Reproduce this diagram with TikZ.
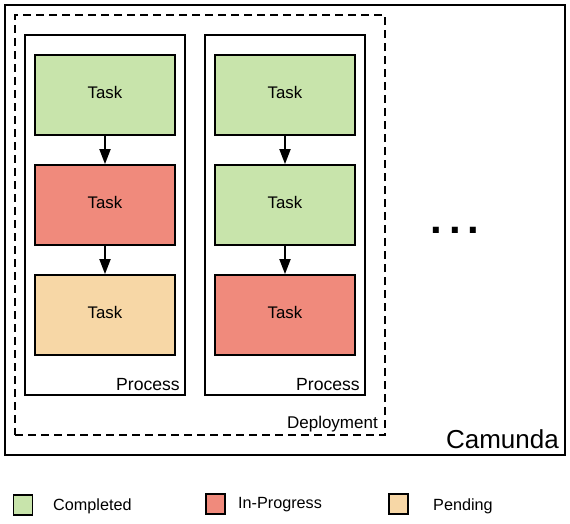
\documentclass[tikz,border=0pt]{standalone}
\usepackage{fontspec}
\setmainfont{Liberation Sans}
\usetikzlibrary{arrows.meta}
\definecolor{cgreen}{RGB}{200,228,171}
\definecolor{cred}{RGB}{240,138,124}
\definecolor{cpeach}{RGB}{247,215,166}
\tikzset{
  box/.style={draw, line width=1.8pt, rectangle, inner sep=0pt},
  taskbox/.style={box, minimum width=140pt, minimum height=80pt, text height=12pt, text depth=4.6pt, font=\fontsize{16.8}{19}\selectfont},
  procbox/.style={box, minimum width=160pt, minimum height=360pt},
  lbl/.style={inner sep=0pt, anchor=base east, font=\fontsize{17.6}{20}\selectfont},
  legsq/.style={box, minimum width=19pt, minimum height=20pt},
  legtxt/.style={inner sep=0pt, anchor=base west, font=\fontsize{16.2}{19}\selectfont},
  arr/.style={line width=1.8pt, -{Triangle[length=15pt,width=11pt]}},
}
\begin{document}
\begin{tikzpicture}[x=1pt,y=-1pt]
\useasboundingbox[fill=white] (0,0) rectangle (570,523);
% outer Camunda box
\node[box, minimum width=560pt, minimum height=450pt] (camunda) at (285,230) {};
\node[lbl, font=\fontsize{26}{30}\selectfont] (camlbl) at (559,448) {Camunda};
% deployment
\node[box, dash pattern=on 8pt off 5pt, minimum width=370pt, minimum height=420pt] (deploy) at (200,225) {};
\node[lbl, font=\fontsize{17}{20}\selectfont] (deplbl) at (378,428) {Deployment};
% process boxes
\node[procbox] (p1) at (105,215) {};
\node[lbl] (p1lbl) at (180,390) {Process};
\node[procbox] (p2) at (285,215) {};
\node[lbl] (p2lbl) at (360,390) {Process};
% tasks
\node[taskbox, fill=cgreen] (a1) at (105,95) {Task};
\node[taskbox, fill=cred] (a2) at (105,205) {Task};
\node[taskbox, fill=cpeach] (a3) at (105,315) {Task};
\node[taskbox, fill=cgreen] (b1) at (285,95) {Task};
\node[taskbox, fill=cgreen] (b2) at (285,205) {Task};
\node[taskbox, fill=cred] (b3) at (285,315) {Task};
\draw[arr] (a1) -- (a2);
\draw[arr] (a2) -- (a3);
\draw[arr] (b1) -- (b2);
\draw[arr] (b2) -- (b3);
% ellipsis
\node[inner sep=0pt, anchor=base, font=\fontsize{42}{46}\selectfont\bfseries] (dots) at (455,233) {.\hspace{7pt}.\hspace{7pt}.};
% legend
\node[legsq, fill=cgreen] (lg1) at (23,505) {};
\node[legtxt] (lt1) at (53,510) {Completed};
\node[legsq, fill=cred] (lg2) at (215.5,504) {};
\node[legtxt] (lt2) at (238,508) {In-Progress};
\node[legsq, fill=cpeach] (lg3) at (398.5,504) {};
\node[legtxt] (lt3) at (433,510) {Pending};
\end{tikzpicture}
\end{document}
